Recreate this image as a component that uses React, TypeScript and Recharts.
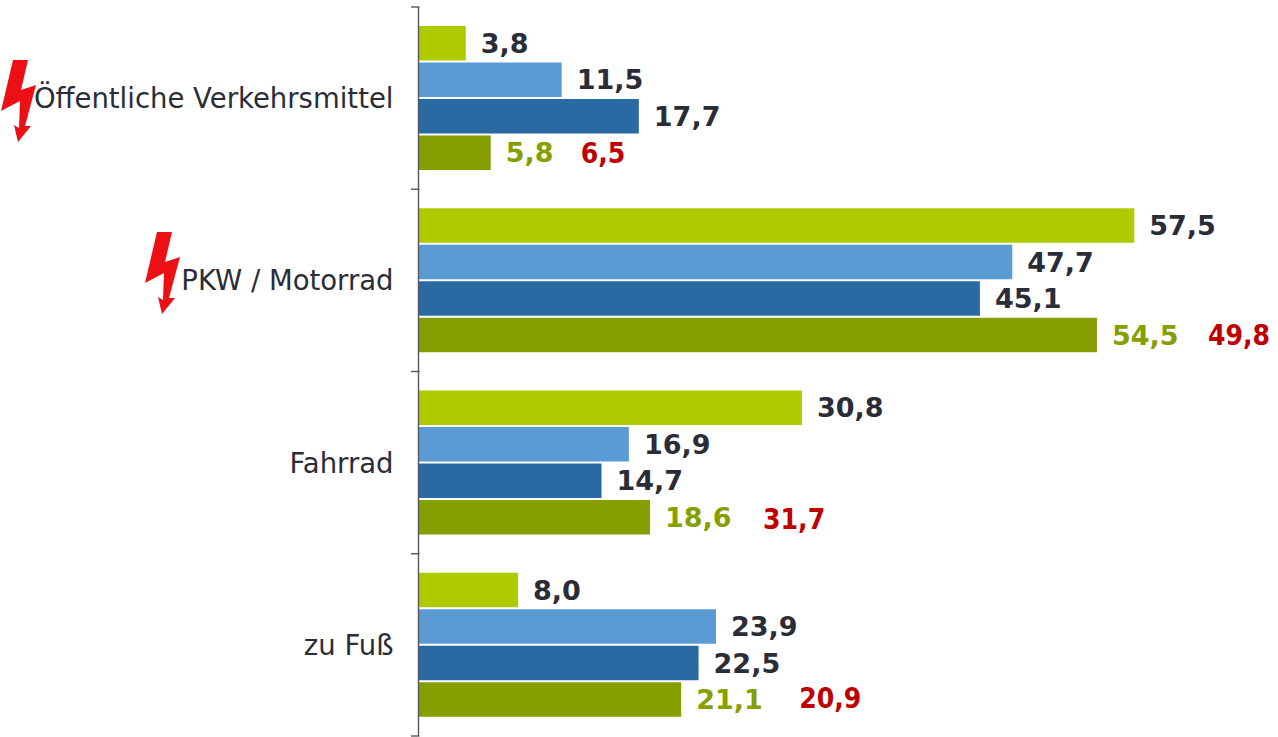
import React from 'react'
import { Bar, BarChart, LabelList, XAxis, YAxis } from 'recharts'

const categories = ['Öffentliche Verkehrsmittel', 'PKW / Motorrad', 'Fahrrad', 'zu Fuß']
const lightGreen = [3.8, 57.5, 30.8, 8.0]
const lightBlue = [11.5, 47.7, 16.9, 23.9]
const darkBlue = [17.7, 45.1, 14.7, 22.5]
const olive = [5.8, 54.5, 18.6, 21.1]
const redValues = [6.5, 49.8, 31.7, 20.9]

// hand placed in the original, so the red numbers have no common offset
const redGaps = [90, 111, 113, 118]
const redShift = [0, 0, 2, -2]
const boltOffsets: Record<string, number> = { 0: 0, 1: 144 }

const data = categories.map((name, i) => ({
  name,
  lightGreen: lightGreen[i],
  lightBlue: lightBlue[i],
  darkBlue: darkBlue[i],
  olive: olive[i],
  red: redValues[i],
}))

const FONT = '"DejaVu Sans", Verdana, sans-serif'
const DARK = '#2a2d38'
const AXIS = '#55585f'
const BAND = 182.25

const comma = (v: any) => Number(v).toFixed(1).replace('.', ',')

const BOLT = '13,60 28,60 21,90 36,85 25,126 31,126 18,142 14,125 19,128 20,101 1,111'

const CategoryTick = ({ x, y, payload, index }: any) => {
  const last = index === categories.length - 1
  const bolt = boltOffsets[index]
  return (
    <g>
      <line x1={ x + 0.5 } x2={ x + 9 } y1={ y - BAND / 2 } y2={ y - BAND / 2 } stroke={ AXIS } strokeWidth={ 1.4 }/>
      { last && <line x1={ x + 0.5 } x2={ x + 9 } y1={ y + BAND / 2 } y2={ y + BAND / 2 } stroke={ AXIS } strokeWidth={ 1.4 }/> }
      { bolt !== undefined && (
        <g transform={ `translate(${ bolt } ${ index * 172 })` }>
          <polygon points={ BOLT } fill="#ec0f14"/>
        </g>
      ) }
      <text x={ x - 17 } y={ y + 10 } textAnchor="end" fontFamily={ FONT } fontSize={ 27.5 } fill={ DARK }>
        { payload.value }
      </text>
    </g>
  )
}

const RedLabel = ({ x, y, width, height, value, index }: any) => (
  <text
    x={ x + width + redGaps[index] }
    y={ y + height / 2 + 10 + redShift[index] }
    fontFamily={ FONT }
    fontWeight="bold"
    fontSize={ 28 }
    style={ { fontStretch: 'condensed' } }
    fill="#c00000">
    { comma(value) }
  </text>
)

const labelStyle = { fontFamily: FONT, fontWeight: 'bold', fontSize: 27 }

const series = [
  { key: 'lightGreen', color: '#aecb00', label: DARK },
  { key: 'lightBlue', color: '#5b9bd5', label: DARK },
  { key: 'darkBlue', color: '#2a6aa3', label: DARK },
  { key: 'olive', color: '#879e00', label: '#85a000' },
]

const App = () => {
  return (
    <div style={ { position: 'absolute', left: 0, top: 0, width: 1278, height: 737, background: '#fff' } }>
      <BarChart
        width={ 1278 }
        height={ 737 }
        data={ data }
        layout="vertical"
        margin={ { top: 7, right: 13, bottom: 1, left: 0 } }
        barSize={ 34.5 }
        barGap={ 2 }>
        <XAxis type="number" domain={ [0, 68] } hide/>
        <YAxis
          type="category"
          dataKey="name"
          width={ 418.5 }
          interval={ 0 }
          axisLine={ { stroke: AXIS, strokeWidth: 1.4 } }
          tickLine={ false }
          tick={ <CategoryTick/> }/>
        { series.map(s => (
          <Bar key={ s.key } dataKey={ s.key } fill={ s.color } isAnimationActive={ false }>
            <LabelList
              dataKey={ s.key }
              position="right"
              offset={ 15 }
              formatter={ comma }
              fill={ s.label }
              style={ labelStyle }/>
            { s.key === 'olive' && <LabelList dataKey="red" content={ <RedLabel/> }/> }
          </Bar>
        )) }
      </BarChart>
    </div>
  )
}

export default App
